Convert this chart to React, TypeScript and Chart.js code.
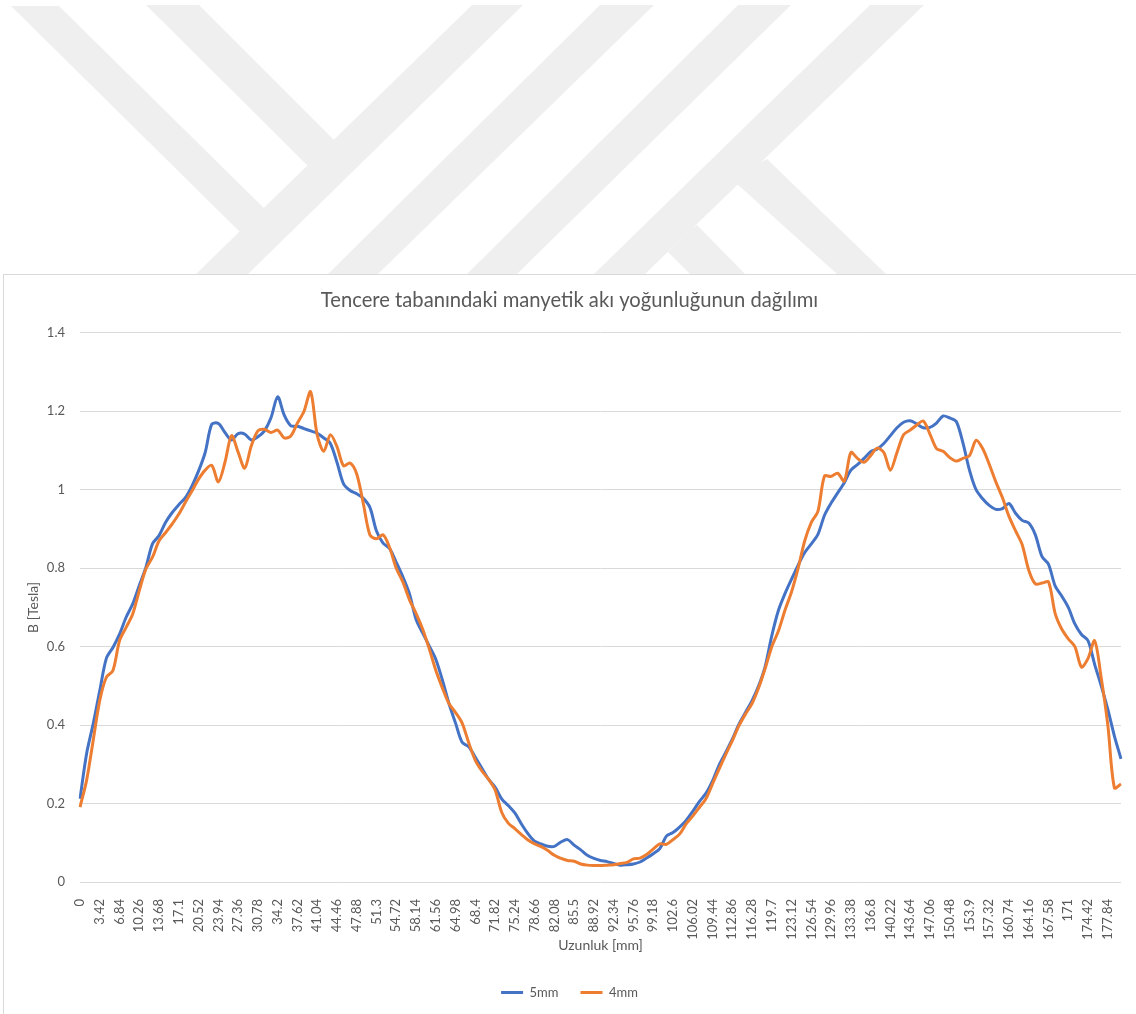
import React, { useEffect, useRef } from "react";
import { Chart, registerables } from "chart.js";

Chart.register(...registerables);

const TITLE = "Tencere tabanındaki manyetik akı yoğunluğunun dağılımı";
const X_TITLE = "Uzunluk [mm]";
const Y_TITLE = "B [Tesla]";
const SERIES_NAMES = ["5mm", "4mm"];

const positionsMm = [
  "0", "1.14", "2.28", "3.42", "4.56", "5.7", "6.84", "7.98", "9.12", "10.26",
  "11.4", "12.54", "13.68", "14.82", "15.96", "17.1", "18.24", "19.38", "20.52", "21.66",
  "22.8", "23.94", "25.08", "26.22", "27.36", "28.5", "29.64", "30.78", "31.92", "33.06",
  "34.2", "35.34", "36.48", "37.62", "38.76", "39.9", "41.04", "42.18", "43.32", "44.46",
  "45.6", "46.74", "47.88", "49.02", "50.16", "51.3", "52.44", "53.58", "54.72", "55.86",
  "57", "58.14", "59.28", "60.42", "61.56", "62.7", "63.84", "64.98", "66.12", "67.26",
  "68.4", "69.54", "70.68", "71.82", "72.96", "74.1", "75.24", "76.38", "77.52", "78.66",
  "79.8", "80.94", "82.08", "83.22", "84.36", "85.5", "86.64", "87.78", "88.92", "90.06",
  "91.2", "92.34", "93.48", "94.62", "95.76", "96.9", "98.04", "99.18", "100.32", "101.46",
  "102.6", "103.74", "104.88", "106.02", "107.16", "108.3", "109.44", "110.58", "111.72", "112.86",
  "114", "115.14", "116.28", "117.42", "118.56", "119.7", "120.84", "121.98", "123.12", "124.26",
  "125.4", "126.54", "127.68", "128.82", "129.96", "131.1", "132.24", "133.38", "134.52", "135.66",
  "136.8", "137.94", "139.08", "140.22", "141.36", "142.5", "143.64", "144.78", "145.92", "147.06",
  "148.2", "149.34", "150.48", "151.62", "152.76", "153.9", "155.04", "156.18", "157.32", "158.46",
  "159.6", "160.74", "161.88", "163.02", "164.16", "165.3", "166.44", "167.58", "168.72", "169.86",
  "171", "172.14", "173.28", "174.42", "175.56", "176.7", "177.84", "178.98", "180.12",
];

const flux5mm = [
  0.212, 0.327, 0.403, 0.488, 0.570, 0.598, 0.632, 0.675, 0.709, 0.756,
  0.802, 0.862, 0.883, 0.917, 0.942, 0.962, 0.980, 1.010, 1.048, 1.095,
  1.167, 1.169, 1.146, 1.127, 1.143, 1.142, 1.127, 1.135, 1.150, 1.184,
  1.237, 1.190, 1.163, 1.162, 1.156, 1.150, 1.144, 1.132, 1.118, 1.070,
  1.015, 0.998, 0.990, 0.978, 0.955, 0.895, 0.864, 0.850, 0.815, 0.778,
  0.735, 0.670, 0.635, 0.602, 0.568, 0.515, 0.455, 0.405, 0.356, 0.345,
  0.318, 0.290, 0.262, 0.242, 0.212, 0.195, 0.176, 0.148, 0.123, 0.104,
  0.097, 0.091, 0.091, 0.102, 0.108, 0.094, 0.082, 0.068, 0.060, 0.055,
  0.052, 0.047, 0.043, 0.044, 0.046, 0.051, 0.061, 0.072, 0.085, 0.117,
  0.126, 0.140, 0.157, 0.180, 0.205, 0.226, 0.258, 0.298, 0.330, 0.364,
  0.402, 0.432, 0.462, 0.500, 0.550, 0.628, 0.692, 0.735, 0.772, 0.808,
  0.840, 0.862, 0.886, 0.935, 0.966, 0.992, 1.018, 1.050, 1.064, 1.080,
  1.097, 1.104, 1.118, 1.138, 1.158, 1.172, 1.176, 1.168, 1.158, 1.159,
  1.170, 1.188, 1.183, 1.174, 1.120, 1.050, 1.000, 0.977, 0.960, 0.950,
  0.952, 0.965, 0.940, 0.922, 0.915, 0.885, 0.830, 0.810, 0.755, 0.729,
  0.700, 0.658, 0.631, 0.615, 0.555, 0.500, 0.440, 0.372, 0.314,
];

const flux4mm = [
  0.191, 0.259, 0.361, 0.463, 0.522, 0.539, 0.615, 0.649, 0.683, 0.743,
  0.798, 0.828, 0.870, 0.891, 0.913, 0.938, 0.968, 0.997, 1.027, 1.050,
  1.062, 1.020, 1.070, 1.138, 1.096, 1.055, 1.112, 1.150, 1.154, 1.146,
  1.152, 1.132, 1.137, 1.170, 1.200, 1.250, 1.140, 1.098, 1.140, 1.110,
  1.061, 1.068, 1.040, 0.965, 0.885, 0.875, 0.885, 0.852, 0.800, 0.765,
  0.720, 0.685, 0.645, 0.595, 0.540, 0.495, 0.455, 0.432, 0.405, 0.355,
  0.310, 0.283, 0.262, 0.235, 0.178, 0.150, 0.136, 0.121, 0.107, 0.097,
  0.090, 0.080, 0.068, 0.060, 0.055, 0.053, 0.046, 0.043, 0.042, 0.042,
  0.043, 0.044, 0.047, 0.050, 0.059, 0.061, 0.070, 0.084, 0.097, 0.096,
  0.108, 0.122, 0.148, 0.168, 0.190, 0.212, 0.250, 0.288, 0.325, 0.360,
  0.398, 0.428, 0.455, 0.495, 0.545, 0.600, 0.640, 0.693, 0.740, 0.800,
  0.870, 0.917, 0.945, 1.035, 1.034, 1.042, 1.022, 1.095, 1.080, 1.070,
  1.087, 1.106, 1.095, 1.050, 1.095, 1.140, 1.152, 1.165, 1.175, 1.142,
  1.105, 1.098, 1.082, 1.073, 1.080, 1.087, 1.126, 1.105, 1.065, 1.020,
  0.980, 0.932, 0.895, 0.860, 0.795, 0.760, 0.762, 0.765, 0.685, 0.645,
  0.620, 0.600, 0.548, 0.570, 0.615, 0.520, 0.400, 0.240, 0.250,
];

const Y_MIN = 0;
const Y_MAX = 1.4;
const Y_STEP = 0.2;
const LABEL_EVERY = 3;

const FONT = "Lato, 'Liberation Sans', sans-serif";
const TEXT_COLOR = "#595959";
const GRID_COLOR = "#d9d9d9";
const BLUE = "#4472C4";
const ORANGE = "#ED7D31";

const WATERMARK = [
  "11,6 59,6 266,210 243,235",
  "146,5 199,5 338,144 312,170",
  "472,5 523,5 248,274 196,274",
  "600,5 654,5 378,274 328,274",
  "738,5 791,5 517,274 467,274",
  "870,5 924,5 645,274 594,274",
  "755,165 767,159 886,274 837,274 736,183",
  "690,230 697,225 745,274 690,274 668,252",
];

export default function App() {
  const ref = useRef<HTMLCanvasElement>(null);

  useEffect(() => {
    if (!ref.current) return;
    const tickFont = { family: FONT, size: 13 };
    const titleFont = { family: FONT, size: 14 };
    const chart = new Chart(ref.current, {
      type: "line",
      data: {
        labels: positionsMm,
        datasets: [
          {
            label: SERIES_NAMES[0],
            data: flux5mm,
            borderColor: BLUE,
            backgroundColor: BLUE,
            borderWidth: 3,
            pointRadius: 0,
            tension: 0.3,
            order: 1,
          },
          {
            label: SERIES_NAMES[1],
            data: flux4mm,
            borderColor: ORANGE,
            backgroundColor: ORANGE,
            borderWidth: 3,
            pointRadius: 0,
            tension: 0.3,
            order: 0,
          },
        ],
      },
      options: {
        responsive: false,
        animation: false,
        events: [],
        layout: { padding: { left: 3, right: 0, top: 278, bottom: 5 } },
        plugins: {
          title: {
            display: true,
            text: TITLE,
            color: TEXT_COLOR,
            font: { family: FONT, size: 20.2, weight: "normal" },
            padding: { top: 10, bottom: 20.6 },
          },
          legend: {
            position: "bottom",
            labels: {
              usePointStyle: true,
              pointStyle: "line",
              pointStyleWidth: 22,
              boxHeight: 13,
              color: TEXT_COLOR,
              font: tickFont,
              padding: 22,
              sort: (a: any, b: any) => a.datasetIndex - b.datasetIndex,
            },
          },
          tooltip: { enabled: false },
        },
        scales: {
          x: {
            grid: { display: false },
            border: { display: false },
            ticks: {
              autoSkip: false,
              minRotation: 90,
              maxRotation: 90,
              padding: 9,
              color: TEXT_COLOR,
              font: tickFont,
              callback: (_v: any, i: number) => (i % LABEL_EVERY === 0 ? positionsMm[i] : null),
            },
            title: {
              display: true,
              text: X_TITLE,
              color: TEXT_COLOR,
              font: titleFont,
              padding: { top: 0, bottom: 10.6 },
            },
            afterFit: (s: any) => {
              s.height = 82;
            },
          },
          y: {
            min: Y_MIN,
            max: Y_MAX,
            ticks: {
              stepSize: Y_STEP,
              padding: 15,
              color: TEXT_COLOR,
              font: tickFont,
              callback: (v: any) => String(Math.round(Number(v) * 10) / 10),
            },
            grid: { color: GRID_COLOR, drawTicks: false, lineWidth: 1 },
            border: { display: false },
            title: {
              display: true,
              text: Y_TITLE,
              color: TEXT_COLOR,
              font: titleFont,
              padding: { top: 21.6, bottom: 0 },
            },
            afterFit: (s: any) => {
              s.width = 77;
            },
          },
          rightGap: {
            position: "right",
            display: true,
            min: Y_MIN,
            max: Y_MAX,
            grid: { display: false, drawTicks: false },
            border: { display: false },
            ticks: { display: false },
            afterFit: (s: any) => {
              s.width = 15;
            },
          },
        },
      },
    } as any);
    return () => chart.destroy();
  }, []);

  return (
    <div
      style={{
        position: "absolute",
        left: 0,
        top: 0,
        width: 1136,
        height: 1014,
        overflow: "hidden",
        background: "#ffffff",
      }}
    >
      <svg
        width={1136}
        height={274}
        style={{ position: "absolute", left: 0, top: 0 }}
      >
        {WATERMARK.map((p, i) => (
          <polygon key={i} points={p} fill="#efefef" />
        ))}
      </svg>
      <div
        style={{
          position: "absolute",
          left: 3,
          top: 274,
          width: 1150,
          height: 760,
          border: "1px solid #d9d9d9",
          boxSizing: "border-box",
        }}
      />
      <canvas
        ref={ref}
        width={1136}
        height={1014}
        style={{ position: "absolute", left: 0, top: 0 }}
      />
    </div>
  );
}
